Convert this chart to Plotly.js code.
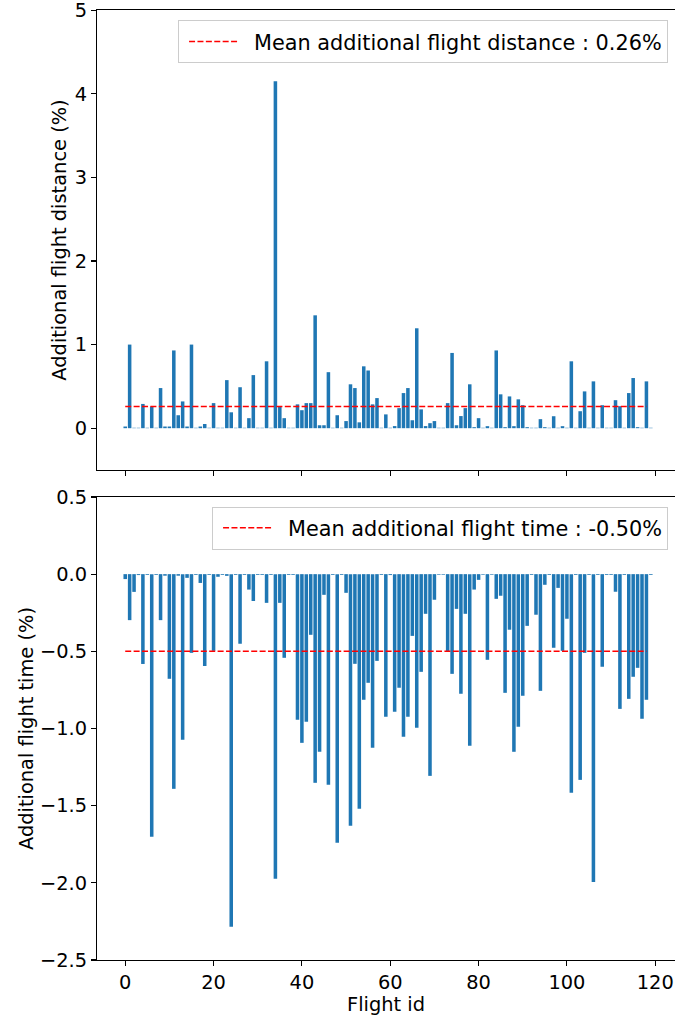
<!DOCTYPE html>
<html><head><meta charset="utf-8">
<script src="https://cdn.plot.ly/plotly-3.0.1.min.js"></script>
<style>html,body{margin:0;padding:0;background:#fff}#chart{width:675px;height:1016px}</style>
</head><body><div id="chart"></div>
<script>
// Additional flight distance (%) per flight id
const flightDistance = [
  0.02, 1.00, 0.005, 0.005, 0.29, 0.005, 0.26, 0.005, 0.48, 0.02,
  0.02, 0.93, 0.155, 0.32, 0.02, 1.00, 0.005, 0.02, 0.05, 0.005,
  0.30, 0.005, 0.005, 0.575, 0.19, 0.005, 0.49, 0.005, 0.12, 0.635,
  0.005, 0.005, 0.80, 0.005, 4.15, 0.26, 0.12, 0.005, 0.005, 0.285,
  0.215, 0.30, 0.30, 1.35, 0.035, 0.035, 0.67, 0.005, 0.155, 0.005,
  0.085, 0.525, 0.48, 0.07, 0.74, 0.69, 0.285, 0.36, 0.005, 0.165,
  0.005, 0.025, 0.24, 0.42, 0.48, 0.095, 1.195, 0.225, 0.025, 0.06,
  0.085, 0.005, 0.005, 0.30, 0.90, 0.035, 0.145, 0.24, 0.525, 0.012,
  0.12, 0.005, 0.024, 0.005, 0.93, 0.405, 0.012, 0.38, 0.024, 0.345,
  0.275, 0.012, 0.005, 0.005, 0.108, 0.012, 0.005, 0.143, 0.005, 0.024,
  0.005, 0.80, 0.005, 0.203, 0.44, 0.005, 0.56, 0.005, 0.275, 0.005,
  0.005, 0.335, 0.263, 0.005, 0.42, 0.60, 0.012, 0.005, 0.56, 0.005
];
// Additional flight time (%) per flight id
const flightTime = [
  -0.032, -0.298, -0.115, -0.006, -0.582, -0.005, -1.702, -0.005, -0.298, -0.01,
  -0.678, -1.391, -0.01, -1.073, -0.024, -0.51, -0.005, -0.057, -0.595, -0.005,
  -0.497, -0.017, -0.005, -0.011, -2.285, -0.005, -0.451, -0.005, -0.10, -0.174,
  -0.005, -0.005, -0.186, -0.005, -1.974, -0.186, -0.542, -0.005, -0.005, -0.944,
  -1.093, -0.957, -0.393, -1.352, -1.151, -0.134, -1.365, -0.005, -1.741, -0.005,
  -0.121, -1.63, -0.581, -1.52, -0.814, -0.704, -1.125, -0.562, -0.005, -0.924,
  -0.006, -0.892, -0.736, -1.054, -0.924, -0.40, -0.996, -0.633, -0.257, -1.307,
  -0.166, -0.004, -0.004, -0.503, -0.646, -0.225, -0.775, -0.257, -1.112, -0.10,
  -0.037, -0.004, -0.555, -0.004, -0.16, -0.14, -0.769, -0.36, -1.151, -0.989,
  -0.788, -0.335, -0.005, -0.263, -0.756, -0.069, -0.005, -0.477, -0.089, -0.497,
  -0.289, -1.417, -0.005, -1.333, -0.51, -0.005, -1.994, -0.005, -0.60, -0.005,
  -0.005, -0.114, -0.873, -0.005, -0.808, -0.665, -0.607, -0.937, -0.814, -0.005
];
const flightIds = flightDistance.map((_, i) => i);

const meanDistance = 0.26;
const meanTime = -0.50;
const meanLineSpan = [0, 118];

const xTicks = [0, 20, 40, 60, 80, 100, 120];
const distanceTicks = [0, 1, 2, 3, 4, 5];
const timeTicks = [-2.5, -2.0, -1.5, -1.0, -0.5, 0.0, 0.5];

const FONT = "DejaVu Sans, sans-serif";
const FS = 19.4;
const LFS = 20.8;
const barColor = '#1f77b4';

const traces = [
  {type: 'bar', x: flightIds, y: flightDistance, xaxis: 'x', yaxis: 'y',
   marker: {color: barColor, line: {width: 0}}, width: 0.8, showlegend: false, hoverinfo: 'x+y'},
  {type: 'scatter', mode: 'lines', x: meanLineSpan, y: meanLineSpan.map(() => meanDistance),
   xaxis: 'x', yaxis: 'y', line: {color: '#ff0000', width: 1.5, dash: '6px,2.4px'},
   name: 'Mean additional flight distance : ' + meanDistance.toFixed(2) + '%', legend: 'legend'},
  {type: 'bar', x: flightIds, y: flightTime, xaxis: 'x2', yaxis: 'y2',
   marker: {color: barColor, line: {width: 0}}, width: 0.8, showlegend: false, hoverinfo: 'x+y'},
  {type: 'scatter', mode: 'lines', x: meanLineSpan, y: meanLineSpan.map(() => meanTime),
   xaxis: 'x2', yaxis: 'y2', line: {color: '#ff0000', width: 1.5, dash: '6px,2.4px'},
   name: 'Mean additional flight time : ' + meanTime.toFixed(2) + '%', legend: 'legend2'}
];

const axisCommon = {
  showline: true, linecolor: '#000', linewidth: 1.1,
  ticks: 'outside', ticklen: 5, tickwidth: 1.1, tickcolor: '#000',
  showgrid: false, zeroline: false, ticklabeloverflow: 'allow',
  tickfont: {family: FONT, size: FS, color: '#000'}
};
const xRange = [-6.39, 124.47];

const legendCommon = {
  x: 0.988, xanchor: 'right', yanchor: 'top',
  bgcolor: 'rgba(255,255,255,0.8)', bordercolor: '#cccccc', borderwidth: 1,
  font: {family: FONT, size: LFS, color: '#000'}, itemwidth: 65
};

const layout = {
  width: 675, height: 1016,
  margin: {l: 97, r: 0, t: 10, b: 56},
  paper_bgcolor: '#fff', plot_bgcolor: '#fff',
  bargap: 0.2,
  font: {family: FONT, size: FS, color: '#000'},
  xaxis: Object.assign({}, axisCommon, {domain: [0, 1], anchor: 'y', range: xRange,
    tickvals: xTicks, showticklabels: false, mirror: true}),
  xaxis2: Object.assign({}, axisCommon, {domain: [0, 1], anchor: 'y2', range: xRange,
    tickvals: xTicks, mirror: true,
    title: {text: 'Flight id', font: {family: FONT, size: FS, color: '#000'}, standoff: 1}}),
  yaxis: Object.assign({}, axisCommon, {domain: [0.5158, 1], anchor: 'x', range: [-0.5, 5.002],
    tickvals: distanceTicks, tickformat: 'd',
    title: {text: 'Additional flight distance (%)', font: {family: FONT, size: FS, color: '#000'}, standoff: 2}}),
  yaxis2: Object.assign({}, axisCommon, {domain: [0, 0.4874], anchor: 'x2', range: [-2.5, 0.5],
    tickvals: timeTicks, tickformat: '.1f',
    title: {text: 'Additional flight time (%)', font: {family: FONT, size: FS, color: '#000'}, standoff: 1}}),
  legend: Object.assign({}, legendCommon, {y: 0.989}),
  legend2: Object.assign({}, legendCommon, {y: 0.477})
};

Plotly.newPlot('chart', traces, layout, {displayModeBar: false, staticPlot: true}).then(gd => {
  // matplotlib-style legend handle: 49px line with a wider gap before the label
  gd.querySelectorAll('.legendlines path').forEach(p => p.setAttribute('d', 'M10,0h49'));
});
</script>
</body></html>
